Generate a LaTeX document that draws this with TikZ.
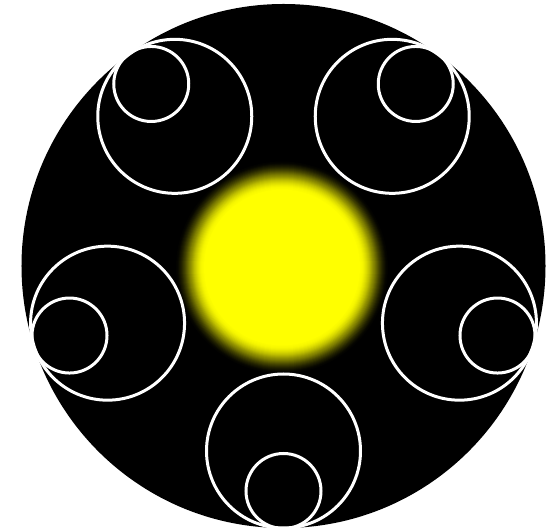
\documentclass[tikz,border=0pt]{standalone}
\usepackage{tikz}

\definecolor{sun}{RGB}{255,255,0}

\begin{document}
\begin{tikzpicture}[x=1bp, y=1bp,
    ring/.style={circle, draw=white, line width=3bp, inner sep=0pt}]
  \useasboundingbox (-283.5,-265) rectangle (276.5,266);

  % black disc
  \fill[black] (0,0) circle (262);

  % glowing centre, faded by hand from the rim inwards
  \foreach \r [evaluate=\r as \p using {int(100*(1-(3*((\r-78)/30)^2-2*((\r-78)/30)^3)))}]
      in {108,107,...,79}
    \fill[sun!\p!black] (-1.5,-1.5) circle (\r);
  \fill[sun] (-1.5,-1.5) circle (78);

  % five pairs of rings around the centre
  \foreach \a [count=\i] in {-90,-18,54,126,198} {
    \node[ring, minimum size=154bp] (outer\i) at (\a:185) {};
    \node[ring, minimum size=75bp]  (inner\i) at (\a:225) {};
  }

\end{tikzpicture}
\end{document}
